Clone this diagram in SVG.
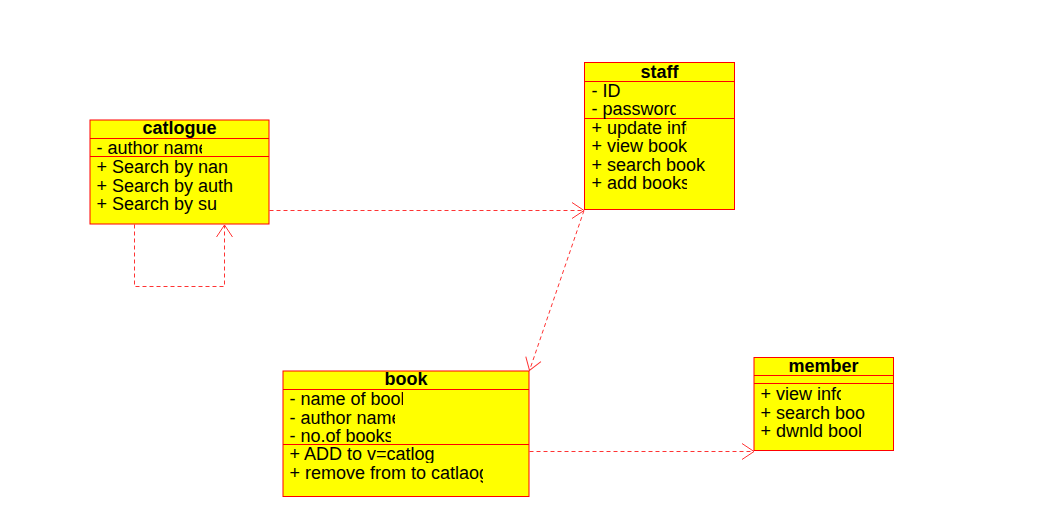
<svg xmlns="http://www.w3.org/2000/svg" width="1045" height="525" viewBox="0 0 1045 525">
<style>
.box{fill:#ffff00;stroke:#ff0000;stroke-width:1}
.div{stroke:#ff0000;stroke-width:1}
.t{font-family:"Liberation Sans",Arial,sans-serif;font-size:18px;fill:#000}
.h{font-family:"Liberation Sans",Arial,sans-serif;font-size:18px;font-weight:bold;fill:#000;text-anchor:middle}
.dep{fill:none;stroke:#ff3333;stroke-width:1;stroke-dasharray:4,3}
</style>
<defs>
<marker id="open" markerWidth="14" markerHeight="18" refX="13" refY="9" orient="auto" markerUnits="userSpaceOnUse">
<path d="M1,1 L13,9 L1,17" fill="none" stroke="#ff3333" stroke-width="1"/>
</marker>
<clipPath id="c1"><rect x="90" y="140" width="112" height="20"/></clipPath>
<clipPath id="s1"><rect x="585" y="100" width="91" height="20"/></clipPath>
<clipPath id="s2"><rect x="585" y="118" width="102" height="80"/></clipPath>
<clipPath id="b1"><rect x="283" y="390" width="120" height="20"/></clipPath>
<clipPath id="b2"><rect x="283" y="408" width="112" height="20"/></clipPath>
<clipPath id="b2b"><rect x="283" y="427" width="108" height="19"/></clipPath>
<clipPath id="b3"><rect x="283" y="445" width="151" height="18"/></clipPath>
<clipPath id="b4"><rect x="283" y="463" width="200" height="20"/></clipPath>
<clipPath id="m1"><rect x="755" y="384" width="86" height="20"/></clipPath>
<clipPath id="m2"><rect x="755" y="421" width="106" height="20"/></clipPath>
</defs>
<g id="connectors">
<path class="dep" d="M134.5,224.5 V286.5 H224.5 V225" marker-end="url(#open)"/>
<path class="dep" d="M269.5,210.5 H584" marker-end="url(#open)"/>
<path class="dep" d="M584,210.5 L529.5,370.5" marker-end="url(#open)"/>
<path class="dep" d="M529.5,451.5 H754" marker-end="url(#open)"/>
</g>
<g id="catlogue">
<rect class="box" x="90" y="120" width="179" height="104"/>
<line class="div" x1="90" y1="138.5" x2="269" y2="138.5"/>
<line class="div" x1="90" y1="156.5" x2="269" y2="156.5"/>
<text class="h" x="179.5" y="134">catlogue</text>
<text class="t" x="96.5" y="154" clip-path="url(#c1)">- author name</text>
<text class="t" x="96.5" y="173">+ Search by nan</text>
<text class="t" x="96.5" y="191.5">+ Search by auth</text>
<text class="t" x="96.5" y="209.5">+ Search by su</text>
</g>
<g id="staff">
<rect class="box" x="584.5" y="62.5" width="150" height="147"/>
<line class="div" x1="584.5" y1="81.5" x2="734.5" y2="81.5"/>
<line class="div" x1="584.5" y1="118.5" x2="734.5" y2="118.5"/>
<text class="h" x="659.5" y="77.5">staff</text>
<text class="t" x="591.5" y="97">- ID</text>
<text class="t" x="591.5" y="115" clip-path="url(#s1)">- password</text>
<text class="t" x="591.5" y="134" clip-path="url(#s2)">+ update info</text>
<text class="t" x="591.5" y="152" clip-path="url(#s2)">+ view books</text>
<text class="t" x="591.5" y="170.5">+ search book</text>
<text class="t" x="591.5" y="188.5" clip-path="url(#s2)">+ add books</text>
</g>
<g id="book">
<rect class="box" x="283" y="371" width="246" height="125.5"/>
<line class="div" x1="283" y1="389.5" x2="529" y2="389.5"/>
<line class="div" x1="283" y1="444.5" x2="529" y2="444.5"/>
<text class="h" x="406" y="385">book</text>
<text class="t" x="289.5" y="405" clip-path="url(#b1)">- name of book</text>
<text class="t" x="289.5" y="423.5" clip-path="url(#b2)">- author name</text>
<text class="t" x="289.5" y="441.5" clip-path="url(#b2b)">- no.of books</text>
<text class="t" x="289.5" y="460" clip-path="url(#b3)">+ ADD to v=catlog</text>
<text class="t" x="289.5" y="478.5" clip-path="url(#b4)">+ remove from to catlaog</text>
</g>
<g id="member">
<rect class="box" x="754" y="357.5" width="139.5" height="93"/>
<line class="div" x1="754" y1="375.5" x2="893.5" y2="375.5"/>
<line class="div" x1="754" y1="383.5" x2="893.5" y2="383.5"/>
<text class="h" x="823.5" y="372">member</text>
<text class="t" x="760.5" y="400" clip-path="url(#m1)">+ view info</text>
<text class="t" x="760.5" y="418.5">+ search boo</text>
<text class="t" x="760.5" y="437" clip-path="url(#m2)">+ dwnld book</text>
</g>
</svg>
